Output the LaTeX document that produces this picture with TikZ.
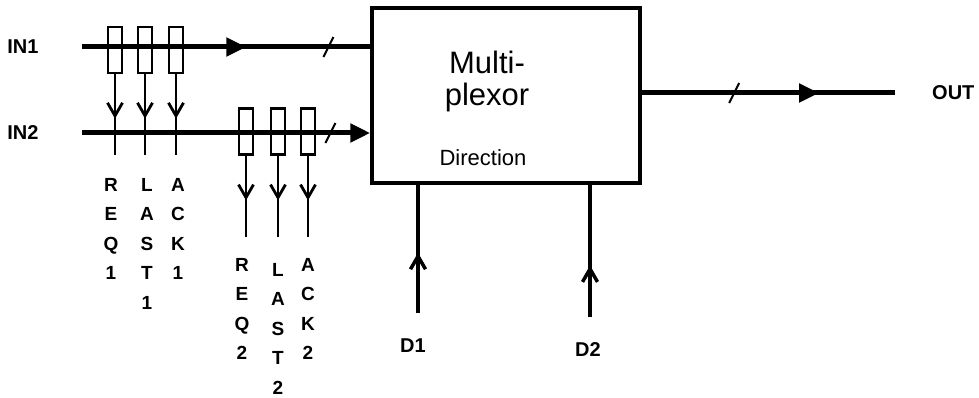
\documentclass[tikz,border=0pt]{standalone}
\usepackage{fontspec}
\setmainfont{Liberation Sans}
\usetikzlibrary{arrows.meta,positioning,decorations.markings}

\begin{document}
\begin{tikzpicture}[x=1pt, y=-1pt,
  every node/.style={font=\fontsize{20}{20}\selectfont\bfseries, inner sep=0pt},
  tap/.style={rectangle, draw, line width=2.3pt, minimum width=14pt, minimum height=46pt},
  bus/.style={line width=5pt},
  wire/.style={line width=2.8pt},
  letters/.style={font=\fontsize{19}{29.5}\selectfont\bfseries, align=center},
  midarrow/.style={postaction={decoration={markings,
      mark=at position #1 with {\arrow{Straight Barb[length=13pt,width=15pt]}}}, decorate}},
  busmarks/.style 2 args={postaction={decoration={markings,
      mark=at position #1 with {\arrow{Triangle[length=20pt,width=18pt]}},
      mark=at position #2 with {\draw[-, line width=2pt] (-5pt,-10pt) -- (5pt,10pt);}}, decorate}},
  slashmark/.style={postaction={decoration={markings,
      mark=at position #1 with {\draw[-, line width=2pt] (-5pt,-10pt) -- (5pt,10pt);}}, decorate}}]
  \useasboundingbox (0,0) rectangle (979,398);
  % multiplexor
  \node[draw, line width=3.5pt, minimum width=268pt, minimum height=175pt] (mux) at (506,95.5) {};
  \node[font=\fontsize{31}{32}\selectfont, align=center] (title) at (487,81) {Multi-\\plexor};
  \node[font=\fontsize{22}{24}\selectfont] (dir) at (483,158) {Direction};
  % inputs
  \node (in1) at (23,47) {IN1};
  \node (in2) at (23,133) {IN2};
  \coordinate (in1s) at (82,47);
  \coordinate (in2s) at (82,133);
  \draw[bus, busmarks={0.57}{0.855}] (in1s) -- (in1s -| mux.west);
  \draw[bus, -{Triangle[length=20pt,width=18pt]}, slashmark=0.862] (in2s) -- (in2s -| mux.west);
  % taps on IN1
  \foreach \n/\x in {r1/115, l1/145, a1/176}{
    \node[tap] (\n) at (\x,50) {};
    \coordinate (\n e) at (\x,155);
    \draw[wire, midarrow=0.55] (\n) -- (\n e);
  }
  % taps on IN2
  \foreach \n/\x in {r2/246, l2/278, a2/308}{
    \node[tap] (\n) at (\x,131.5) {};
    \coordinate (\n e) at (\x,237);
    \draw[wire, midarrow=0.55] (\n) -- (\n e);
  }
  \node[letters, below=23pt of r1e, xshift=-4pt] (r1t) {R\\E\\Q\\1};
  \node[letters, below=23pt of l1e, xshift=2pt] (l1t) {L\\A\\S\\T\\1};
  \node[letters, below=23pt of a1e, xshift=2pt] (a1t) {A\\C\\K\\1};
  \node[letters, below=21pt of r2e, xshift=-4pt] (r2t) {R\\E\\Q\\2};
  \node[letters, below=26pt of l2e] (l2t) {L\\A\\S\\T\\2};
  \node[letters, below=21pt of a2e] (a2t) {A\\C\\K\\2};
  % output
  \coordinate (oute) at (895,93);
  \draw[bus, busmarks={0.70}{0.365}] (mux.east |- oute) -- (oute);
  \node[right=37pt of oute] (out) {OUT};
  % direction inputs
  \coordinate (d1e) at (418,313);
  \coordinate (d2e) at (590,317);
  \draw[wire, line width=3.5pt, midarrow=0.47] (d1e) -- (d1e |- mux.south);
  \draw[wire, line width=3.5pt, midarrow=0.39] (d2e) -- (d2e |- mux.south);
  \node[below=26pt of d1e, xshift=-5pt] (d1) {D1};
  \node[below=25pt of d2e, xshift=-2pt] (d2) {D2};
\end{tikzpicture}
\end{document}
